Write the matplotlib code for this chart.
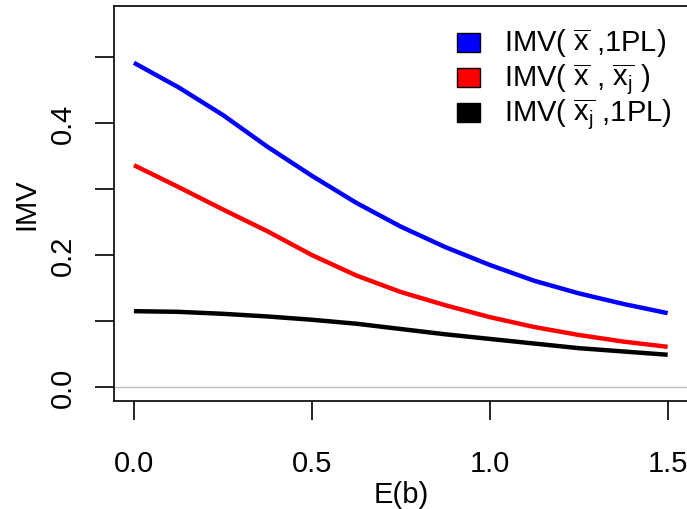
import matplotlib
matplotlib.use("Agg")
import matplotlib.pyplot as plt
from matplotlib.patches import Rectangle

plt.rcParams['font.family'] = ['Liberation Sans', 'DejaVu Sans']
plt.rcParams['mathtext.fontset'] = 'custom'
plt.rcParams['mathtext.rm'] = 'Liberation Sans'
plt.rcParams['mathtext.it'] = 'Liberation Sans'

# E(b) grid and IMV curves
eb = [0.0, 0.125, 0.25, 0.375, 0.5, 0.625, 0.75, 0.875, 1.0, 1.125, 1.25, 1.375, 1.5]
imv_x_1pl = [0.491, 0.454, 0.412, 0.364, 0.320, 0.279, 0.243, 0.212, 0.185, 0.161, 0.142, 0.126, 0.112]
imv_x_xj = [0.336, 0.303, 0.269, 0.236, 0.200, 0.169, 0.144, 0.124, 0.106, 0.091, 0.079, 0.069, 0.061]
imv_xj_1pl = [0.115, 0.114, 0.111, 0.107, 0.102, 0.096, 0.088, 0.080, 0.073, 0.066, 0.059, 0.054, 0.049]

labels = [r'IMV( $\overline{\mathrm{x}}$ ,1PL)',
          r'IMV( $\overline{\mathrm{x}}$ , $\overline{\mathrm{x}_\mathrm{j}}$ )',
          r'IMV( $\overline{\mathrm{x}_\mathrm{j}}$ ,1PL)']
colors = ['blue', 'red', 'black']

W, H = 687, 510
fs = 21
fig = plt.figure(figsize=(W / 100, H / 100), dpi=100)
ax = fig.add_axes([114 / W, 1 - 402 / H, (689 - 114) / W, (402 - 7) / H])

ax.axhline(0, color='#bebebe', lw=1)
for ys, c in zip([imv_x_1pl, imv_x_xj, imv_xj_1pl], colors):
    ax.plot(eb, ys, color=c, lw=3.2, solid_capstyle='butt', solid_joinstyle='round')

ax.set_xlim(-0.056, 1.56)
ax.set_ylim(-0.021, 0.577)

ax.set_xticks([0.0, 0.5, 1.0, 1.5])
ax.set_xticklabels(['0.0', '0.5', '1.0', '1.5'])
ax.set_yticks([0.0, 0.1, 0.2, 0.3, 0.4, 0.5])
ax.set_yticklabels(['0.0', '', '0.2', '', '0.4', ''])
ax.tick_params(axis='both', direction='out', length=13.5, width=1.2, labelsize=fs, colors='black')
ax.tick_params(axis='x', pad=21)
ax.tick_params(axis='y', pad=13)
for t in ax.get_yticklabels():
    t.set_rotation(90)
    t.set_va('center')
for s in ax.spines.values():
    s.set_linewidth(1.2)

ax.set_xlabel('E(b)', fontsize=fs, labelpad=2)
ax.set_ylabel('IMV', fontsize=fs, labelpad=6)

# legend drawn as fixed rows (pixel positions, top-left origin)
for i, (lab, c) in enumerate(zip(labels, colors)):
    base = 51.7 + 35 * i
    fig.patches.append(Rectangle((457 / W, 1 - (base - 8 + 9.5) / H), 23 / W, 19 / H,
                                 transform=fig.transFigure, facecolor=c,
                                 edgecolor='black', lw=1))
    fig.text(504 / W, 1 - base / H, lab, fontsize=fs, ha='left', va='baseline')

fig.savefig('out.png', dpi=100)
